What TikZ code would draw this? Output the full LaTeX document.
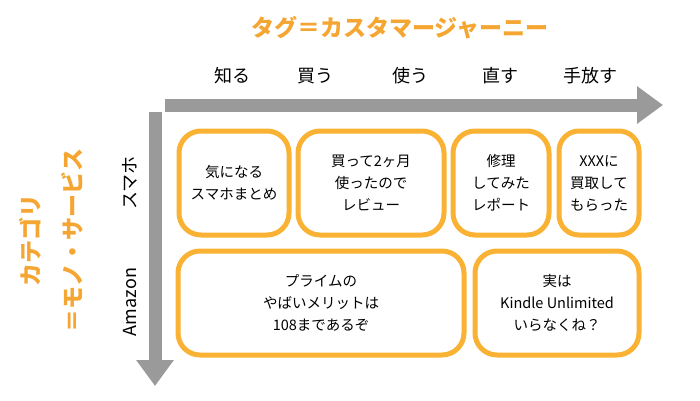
\documentclass[tikz,border=0pt]{standalone}
\usepackage{fontspec}
\setmainfont{Noto Sans CJK JP}
\usetikzlibrary{arrows.meta}
\definecolor{org}{HTML}{F9B233}
\definecolor{ttl}{HTML}{F5A632}
\definecolor{gr}{HTML}{9A9A9A}
\begin{document}
\begin{tikzpicture}[x=1pt,y=-1pt,
  box/.style={draw=org,line width=5pt,rounded corners=22pt,fill=white,align=center,font=\fontsize{14.5}{22}\selectfont,inner sep=0pt},
  col/.style={font=\fontsize{18}{20}\selectfont},
  row/.style={font=\fontsize{18}{20}\selectfont,rotate=90},
  ar/.style={gr,line width=13pt,-{Triangle[length=26pt,width=36pt]}}]
\useasboundingbox (0,0) rectangle (700,400);
\node[font=\bfseries\fontsize{23}{25}\selectfont,text=ttl] (t) at (400,28) {タグ＝カスタマージャーニー};
\node[col] (c1) at (232,76) {知る};
\node[col] (c2) at (315,76) {買う};
\node[col] (c3) at (410,76) {使う};
\node[col] (c4) at (500,76) {直す};
\node[col] (c5) at (590,76) {手放す};
\coordinate (h0) at (165,105); \coordinate (h1) at (663,105);
\coordinate (v0) at (155,112); \coordinate (v1) at (155,386);
\draw[ar] (h0) -- (h1);
\draw[ar] (v0) -- (v1);
\node[row] (r1) at (130,183) {スマホ};
\node[row] (r2) at (130,302) {Amazon};
\node[row,font=\bfseries\fontsize{23}{25}\selectfont,text=ttl] (k1) at (30,240) {カテゴリ};
\node[row,font=\bfseries\fontsize{23}{25}\selectfont,text=ttl] (k2) at (72,240) {＝モノ・サービス};
\node[box,minimum width=110pt,minimum height=104pt] (b1) at (234,183) {気になる\\スマホまとめ};
\node[box,minimum width=146pt,minimum height=104pt] (b2) at (371,183) {買って2ヶ月\\使ったので\\レビュー};
\node[box,minimum width=96pt,minimum height=104pt] (b3) at (501,183) {修理\\してみた\\レポート};
\node[box,minimum width=80pt,minimum height=104pt,rounded corners=20pt] (b4) at (599,183) {XXXに\\買取して\\もらった};
\node[box,minimum width=286pt,minimum height=104pt] (b5) at (321,303) {プライムの\\やばいメリットは\\108まであるぞ};
\node[box,minimum width=164pt,minimum height=104pt] (b6) at (557,303) {実は\\Kindle Unlimited\\いらなくね？};
\end{tikzpicture}
\end{document}
